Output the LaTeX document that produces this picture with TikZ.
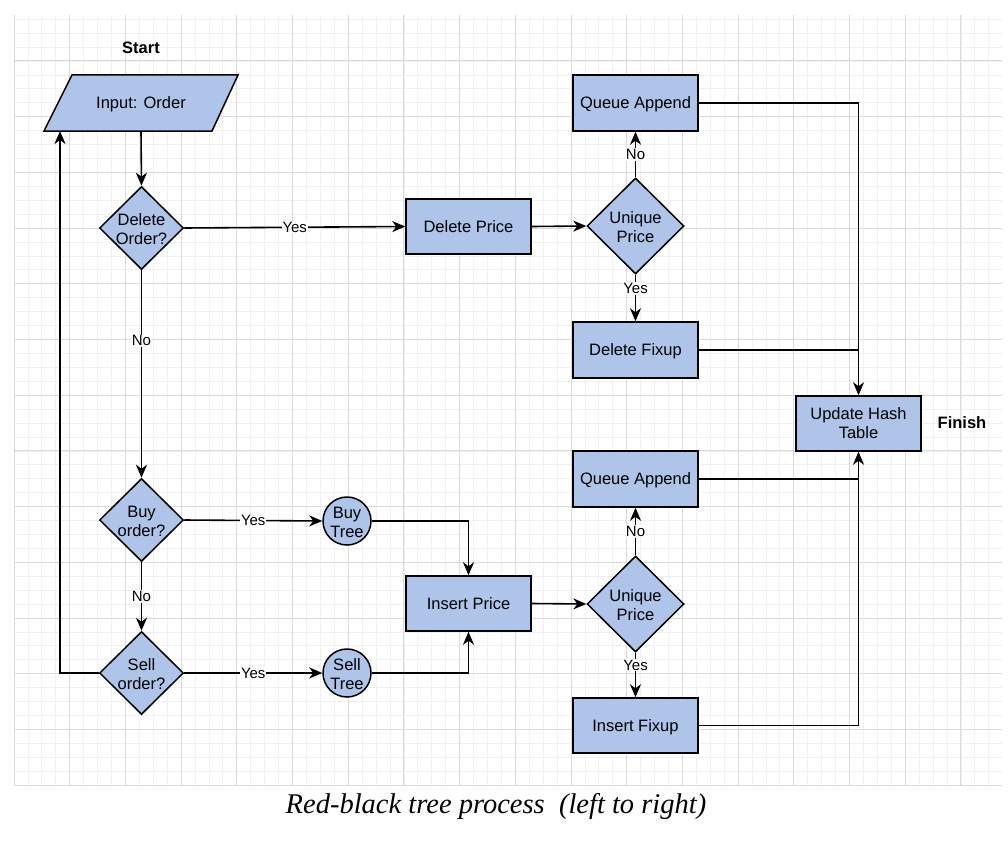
\documentclass[tikz,border=0pt]{standalone}
\usepackage{fontspec}
\setmainfont{Liberation Sans}
\newfontfamily\capfont{Liberation Serif}
\usetikzlibrary{shapes.geometric,arrows.meta}
\definecolor{boxfill}{RGB}{174,196,232}
\definecolor{gridminor}{RGB}{240,240,240}
\definecolor{gridmajor}{RGB}{218,218,218}
\tikzset{
  every node/.style={font=\fontsize{16.5}{19}\selectfont, text=black},
  box/.style={draw=black, line width=1.5pt, fill=boxfill, rectangle, minimum width=125pt, minimum height=56pt, inner sep=0pt, align=center, text depth=0pt},
  decision/.style={draw=black, line width=1.5pt, fill=boxfill, diamond, inner sep=0pt, minimum width=84pt, minimum height=83pt},
  bigdecision/.style={decision, minimum width=97pt, minimum height=96pt},
  tree/.style={draw=black, line width=1.5pt, fill=boxfill, circle, inner sep=0pt, minimum size=48pt},
  ctext/.style={label={[align=center, font=\fontsize{16.5}{19}\selectfont, yshift=-1pt]center:#1}},
  conn/.style={draw=black, line width=1.6pt},
  arr/.style={conn, -{Stealth[length=13pt, width=11pt, inset=4pt]}},
  lbl/.style={fill=white, inner sep=1pt, font=\fontsize{15}{17}\selectfont},
  bold/.style={font=\fontsize{16.5}{19}\selectfont\bfseries},
}
\begin{document}
\begin{tikzpicture}[x=1pt, y=-1pt]
\path[use as bounding box, fill=white] (0,0) rectangle (1008,848);
% grid
\foreach \i in {0,...,70} {
  \pgfmathsetmacro\xx{14+13.925*\i}
  \draw[gridminor, line width=0.8pt] (\xx,15) -- (\xx,786);
}
\foreach \i in {0,...,55} {
  \pgfmathsetmacro\yy{19.225+13.925*\i}
  \draw[gridminor, line width=0.8pt] (14,\yy) -- (1002,\yy);
}
\foreach \i in {0,...,17} {
  \pgfmathsetmacro\xx{14+55.7*\i}
  \draw[gridmajor, line width=1pt] (\xx,15) -- (\xx,786);
}
\foreach \i in {0,...,13} {
  \pgfmathsetmacro\yy{61+55.7*\i}
  \draw[gridmajor, line width=1pt] (14,\yy) -- (1002,\yy);
}
% input parallelogram
\draw[line width=1.5pt, fill=boxfill] (72,75) -- (238,75) -- (212,131) -- (44,131) -- cycle;
\node[minimum width=140pt, minimum height=56pt, inner sep=0pt, text depth=0pt] (input) at (141,103) {Input: Order};
\node[bold] (start) at (141,48) {Start};
% decisions left
\node[decision, ctext={Delete\\Order?}] (dord) at (141.5,228) {};
\node[decision, ctext={Buy\\order?}] (buy) at (141.5,520) {};
\node[decision, ctext={Sell\\order?}] (sell) at (141.5,673) {};
% trees
\node[tree, ctext={Buy\\Tree}] (btree) at (347,521) {};
\node[tree, ctext={Sell\\Tree}] (stree) at (347,673) {};
% boxes
\node[box, minimum height=55pt] (dprice) at (468.5,226.5) {Delete Price};
\node[box, minimum height=55pt] (iprice) at (468.5,603.5) {Insert Price};
\node[bigdecision, ctext={Unique\\Price}] (up1) at (635.5,226) {};
\node[bigdecision, ctext={Unique\\Price}] (up2) at (635.5,604) {};
\node[box] (qa1) at (635.5,103) {Queue Append};
\node[box] (dfix) at (635.5,350) {Delete Fixup};
\node[box] (qa2) at (635.5,479) {Queue Append};
\node[box, minimum height=55pt] (ifix) at (635.5,725.5) {Insert Fixup};
\node[box, minimum height=55pt] (hash) at (858.5,423.5) {Update Hash\\Table};
\node[bold] (finish) at (962,423) {Finish};
% connectors
\draw[arr] (input.south) -- (dord.north);
\draw[arr] (dord.east) -- node[lbl] {Yes} (dprice.west);
\draw[arr] (dprice.east) -- (up1.west);
\draw[arr] (up1.north) -- node[lbl] {No} (qa1.south);
\draw[arr] (up1.south) -- node[lbl, pos=0.3] {Yes} (dfix.north);
\draw[arr] (qa1.east) -| (hash.north);
\draw[conn] (dfix.east) -- (dfix.east -| hash.north);
\draw[conn] (qa2.east) -- (qa2.east -| hash.south);
\draw[arr] (ifix.east) -| (hash.south);
\draw[arr] (dord.south) -- node[lbl, pos=0.34] {No} (buy.north);
\draw[arr] (buy.east) -- node[lbl] {Yes} (btree.west);
\draw[arr] (buy.south) -- node[lbl] {No} (sell.north);
\draw[arr] (sell.east) -- node[lbl] {Yes} (stree.west);
\draw[arr] (btree.east) -| (iprice.north);
\draw[arr] (stree.east) -| (iprice.south);
\draw[arr] (iprice.east) -- (up2.west);
\draw[arr] (up2.north) -- node[lbl] {No} (qa2.south);
\draw[arr] (up2.south) -- node[lbl, pos=0.28] {Yes} (ifix.north);
\coordinate (ret) at (60,673);
\coordinate (inbot) at (60,131);
\draw[arr] (sell.west) -- (ret) -- (inbot);
% caption
\node[font=\capfont\itshape\fontsize{28.5}{34}\selectfont] (caption) at (496,806) {Red-black tree process\ \ (left to right)};
\end{tikzpicture}
\end{document}
